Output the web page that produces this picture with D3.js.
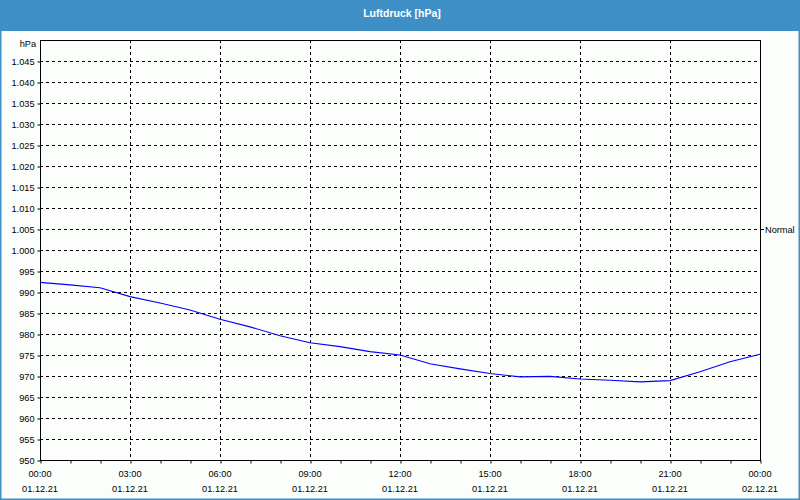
<!DOCTYPE html>
<html><head><meta charset="utf-8">
<script src="https://cdn.jsdelivr.net/npm/d3@7"></script>
<style>
html,body{margin:0;padding:0;background:#fff;}
svg{display:block;font-family:"Liberation Sans",Arial,sans-serif;}
</style></head>
<body>
<svg id="c" width="800" height="500"></svg>
<script>
// Data: hourly pressure readings (hPa), 01.12.21 00:00 .. 02.12.21 00:00
const hours = [0,1,2,3,4,5,6,7,8,9,10,11,12,13,14,15,16,17,18,19,20,21,22,23,24];
const pressure = [992.3,991.7,991.0,988.9,987.4,985.7,983.5,981.7,979.6,977.9,977.0,975.8,975.0,972.9,971.7,970.6,969.8,969.9,969.3,969.0,968.6,968.9,971.0,973.4,975.2];
const yTicks = [950,955,960,965,970,975,980,985,990,995,1000,1005,1010,1015,1020,1025,1030,1035,1040,1045];
const xTickHours = [0,3,6,9,12,15,18,21,24];
const xTimeLabels = ["00:00","03:00","06:00","09:00","12:00","15:00","18:00","21:00","00:00"];
const xDateLabels = ["01.12.21","01.12.21","01.12.21","01.12.21","01.12.21","01.12.21","01.12.21","01.12.21","02.12.21"];
const title = "Luftdruck [hPa]";
const unitLabel = "hPa";
const normalLabel = "Normal";
const normalValue = 1005;

const svg = d3.select("#c");
const W = 800, H = 500;
const m = {left:40, right:760, top:40, bottom:460};
const FS = 9.2;

// background + frame
svg.append("rect").attr("x",0).attr("y",0).attr("width",W).attr("height",H).attr("fill","#fcfefc");
svg.append("rect").attr("x",0).attr("y",0).attr("width",W).attr("height",31).attr("fill","#3d8fc6");
svg.append("rect").attr("x",0.75).attr("y",0.75).attr("width",W-1.5).attr("height",H-1.5)
  .attr("fill","none").attr("stroke","#3d8fc6").attr("stroke-width",1.5);
svg.append("text").attr("x",W/2+2).attr("y",16.5).attr("text-anchor","middle")
  .attr("fill","#fff").attr("font-size",10.5).attr("font-weight","bold").text(title);

const x = d3.scaleLinear().domain([0,24]).range([m.left,m.right]);
const y = d3.scaleLinear().domain([950,1050]).range([m.bottom,m.top]);

// grid
const g = svg.append("g");
g.selectAll(".hg").data(yTicks.filter(v=>v>950)).enter().append("line")
  .attr("x1",m.left).attr("x2",m.right)
  .attr("y1",d=>Math.round(y(d))+0.5).attr("y2",d=>Math.round(y(d))+0.5)
  .attr("stroke","#000").attr("stroke-dasharray","3,3").attr("stroke-width",1);
g.selectAll(".vg").data(xTickHours.filter(h=>h>0&&h<24)).enter().append("line")
  .attr("y1",m.top).attr("y2",m.bottom)
  .attr("x1",d=>Math.round(x(d))+0.5).attr("x2",d=>Math.round(x(d))+0.5)
  .attr("stroke","#000").attr("stroke-dasharray","3,3").attr("stroke-width",1);

// plot frame
svg.append("rect").attr("x",m.left+0.5).attr("y",m.top+0.5)
  .attr("width",m.right-m.left).attr("height",m.bottom-m.top)
  .attr("fill","none").attr("stroke","#000").attr("stroke-width",1);

// y axis
const yAxis = d3.axisLeft(y).tickValues(yTicks).tickSize(3).tickPadding(3)
  .tickFormat(d=>d>=1000 ? d3.format(".3f")(d/1000) : String(d));
const ya = svg.append("g").attr("transform",`translate(${m.left+0.5},0.5)`).call(yAxis);
ya.select(".domain").remove();
ya.selectAll("text").attr("font-size",FS).attr("fill","#000")
  .attr("font-family","Liberation Sans, Arial, sans-serif");
svg.append("text").attr("x",m.left-4).attr("y",m.top+7).attr("text-anchor","end")
  .attr("font-size",FS).attr("fill","#000").text(unitLabel);

// x axis minor ticks (hourly) and labels
const xAxis = d3.axisBottom(x).tickValues(hours).tickSize(3).tickFormat("");
const xa = svg.append("g").attr("transform",`translate(0.5,${m.bottom+0.5})`).call(xAxis);
xa.select(".domain").remove();
const xl = svg.append("g");
xl.selectAll(".t1").data(xTickHours).enter().append("text")
  .attr("x",d=>x(d)).attr("y",m.bottom+17).attr("text-anchor","middle")
  .attr("font-size",FS).attr("fill","#000").text((d,i)=>xTimeLabels[i]);
xl.selectAll(".t2").data(xTickHours).enter().append("text")
  .attr("x",d=>x(d)).attr("y",m.bottom+32).attr("text-anchor","middle")
  .attr("font-size",FS).attr("fill","#000").text((d,i)=>xDateLabels[i]);

// Normal marker on right
svg.append("line").attr("x1",m.right+1).attr("x2",m.right+4)
  .attr("y1",Math.round(y(normalValue))+0.5).attr("y2",Math.round(y(normalValue))+0.5)
  .attr("stroke","#000");
svg.append("text").attr("x",m.right+5).attr("y",y(normalValue)+4)
  .attr("font-size",FS).attr("fill","#000").text(normalLabel);

// series line
const line = d3.line().x((d,i)=>x(hours[i])).y(d=>y(d));
svg.append("path").datum(pressure).attr("d",line)
  .attr("fill","none").attr("stroke","#0000ff").attr("stroke-width",1.1);
</script>
</body></html>
